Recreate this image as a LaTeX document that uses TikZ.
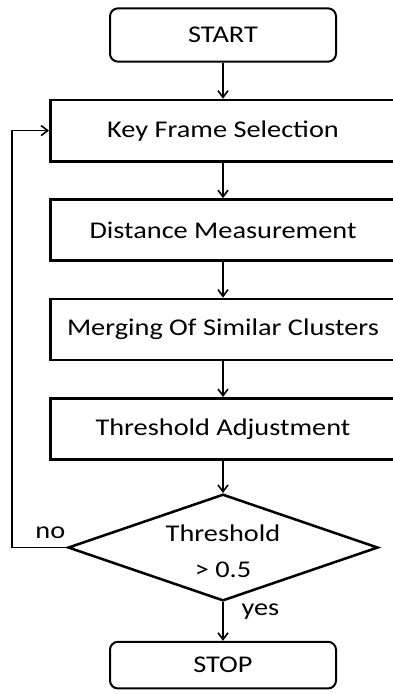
\documentclass[tikz,border=0pt]{standalone}
\usepackage{fontspec}
\setmainfont{Carlito}[FakeStretch=1.18]
\usetikzlibrary{positioning,shapes.geometric,arrows.meta}
\tikzset{
  chartfont/.style={font=\fontsize{18}{26}\selectfont},
  terminal/.style={draw,rounded corners=6pt,line width=1.5pt,minimum width=169.5pt,minimum height=40pt,chartfont},
  stepbox/.style={draw,line width=1.9pt,minimum width=259pt,minimum height=46pt,chartfont},
  decision/.style={draw,diamond,aspect=2.87,line width=1.9pt,inner sep=0pt,minimum width=232.5pt,minimum height=80pt},
  flow/.style={line width=1.2pt,-{Straight Barb[length=5pt,width=7.5pt,line width=1.2pt]}},
}
\begin{document}
\begin{tikzpicture}[node distance=27pt]
\useasboundingbox (0,0) rectangle (294.75pt,-520.5pt);
\node[terminal] (start) at (167.25pt,-26.25pt) {START};
\node[stepbox,below=of start] (keyframe) {Key Frame Selection};
\node[stepbox,below=26.7pt of keyframe] (distance) {Distance Measurement};
\node[stepbox,below=26.7pt of distance] (merging) {Merging Of Similar Clusters};
\node[stepbox,below=26.7pt of merging] (adjust) {Threshold Adjustment};
\node[decision,below=24pt of adjust] (test) {};
\node[chartfont,align=center] (testtext) at ([yshift=-2.5pt]test.center) {Threshold\\[1pt] > 0.5};
\node[terminal,minimum height=35pt,below=29pt of test] (stop) {STOP};
\coordinate (loop) at (9pt,0 |- test.west);
\draw[flow] (start) -- (keyframe);
\draw[flow] (keyframe) -- (distance);
\draw[flow] (distance) -- (merging);
\draw[flow] (merging) -- (adjust);
\draw[flow] (adjust) -- (test);
\draw[flow] (test) -- node[right,pos=0.25,xshift=10pt,chartfont] {yes} (stop);
\draw[flow] (test.west) -- node[above,pos=0.3,yshift=3pt,chartfont] {no} (loop) |- (keyframe.west);
\end{tikzpicture}
\end{document}
